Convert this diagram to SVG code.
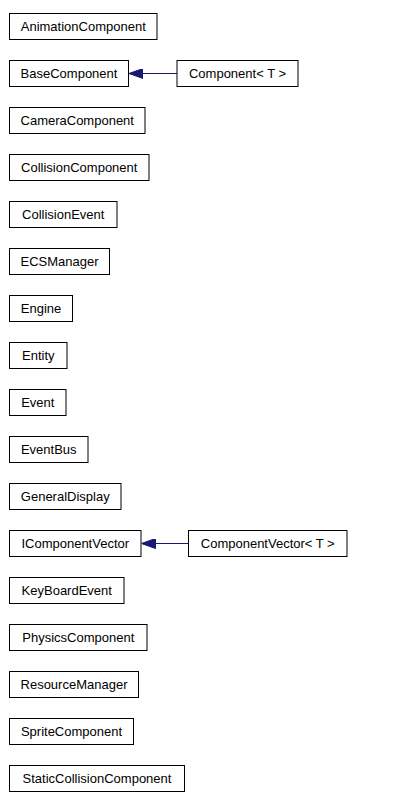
<svg xmlns="http://www.w3.org/2000/svg" width="400" height="804" viewBox="0 0 400 804">
<defs>
<style>
.n rect{fill:#fff;stroke:#000;stroke-width:1}
.n text{font-family:"Liberation Sans",Arial,Helvetica,sans-serif;font-size:13px;fill:#000;text-anchor:middle}
.e path{fill:none;stroke:#191970;stroke-width:1}
</style>
<marker id="ah" viewBox="0 0 14 10" refX="14" refY="5" markerWidth="14" markerHeight="10" markerUnits="userSpaceOnUse" orient="auto">
<path d="M0,0 L14,5 L0,10 z" fill="#191970" stroke="#191970" stroke-width="1"/>
</marker>
</defs>
<rect width="400" height="804" fill="#fff"/>
<g id="edges" class="e">
<path d="M177,73.5 L129,73.5" marker-end="url(#ah)"/>
<path d="M188.5,543.5 L141.5,543.5" marker-end="url(#ah)"/>
</g>
<g id="AnimationComponent" class="n"><rect x="9.5" y="13.5" width="147.5" height="26"/><text x="83.25" y="31">AnimationComponent</text></g>
<g id="BaseComponent" class="n"><rect x="9.5" y="60.5" width="119" height="26"/><text x="69" y="78">BaseComponent</text></g>
<g id="Component_T" class="n"><rect x="177" y="60.5" width="121" height="26"/><text x="237.5" y="78">Component&lt; T &gt;</text></g>
<g id="CameraComponent" class="n"><rect x="9.5" y="107.5" width="135.5" height="26"/><text x="77.25" y="125">CameraComponent</text></g>
<g id="CollisionComponent" class="n"><rect x="9.5" y="154.5" width="139.5" height="26"/><text x="79.25" y="172">CollisionComponent</text></g>
<g id="CollisionEvent" class="n"><rect x="9.5" y="201.5" width="107.5" height="26"/><text x="63.25" y="219">CollisionEvent</text></g>
<g id="ECSManager" class="n"><rect x="9.5" y="248.5" width="100" height="26"/><text x="59.5" y="266">ECSManager</text></g>
<g id="Engine" class="n"><rect x="9.5" y="295.5" width="63" height="26"/><text x="41" y="313">Engine</text></g>
<g id="Entity" class="n"><rect x="9.5" y="342.5" width="57.5" height="26"/><text x="38.25" y="360">Entity</text></g>
<g id="Event" class="n"><rect x="9.5" y="389.5" width="56.5" height="26"/><text x="37.75" y="407">Event</text></g>
<g id="EventBus" class="n"><rect x="9.5" y="436.5" width="78.5" height="26"/><text x="48.75" y="454">EventBus</text></g>
<g id="GeneralDisplay" class="n"><rect x="9.5" y="483.5" width="111.5" height="26"/><text x="65.25" y="501">GeneralDisplay</text></g>
<g id="IComponentVector" class="n"><rect x="9.5" y="530.5" width="131.5" height="26"/><text x="75.25" y="548">IComponentVector</text></g>
<g id="ComponentVector_T" class="n"><rect x="188.5" y="530.5" width="158.5" height="26"/><text x="267.75" y="548">ComponentVector&lt; T &gt;</text></g>
<g id="KeyBoardEvent" class="n"><rect x="9.5" y="577.5" width="114.5" height="26"/><text x="66.75" y="595">KeyBoardEvent</text></g>
<g id="PhysicsComponent" class="n"><rect x="9.5" y="624.5" width="137.5" height="26"/><text x="78.25" y="642">PhysicsComponent</text></g>
<g id="ResourceManager" class="n"><rect x="9.5" y="671.5" width="129" height="26"/><text x="74" y="689">ResourceManager</text></g>
<g id="SpriteComponent" class="n"><rect x="9.5" y="718.5" width="124" height="26"/><text x="71.5" y="736">SpriteComponent</text></g>
<g id="StaticCollisionComponent" class="n"><rect x="9.5" y="765.5" width="175" height="26"/><text x="97" y="783">StaticCollisionComponent</text></g>
</svg>
